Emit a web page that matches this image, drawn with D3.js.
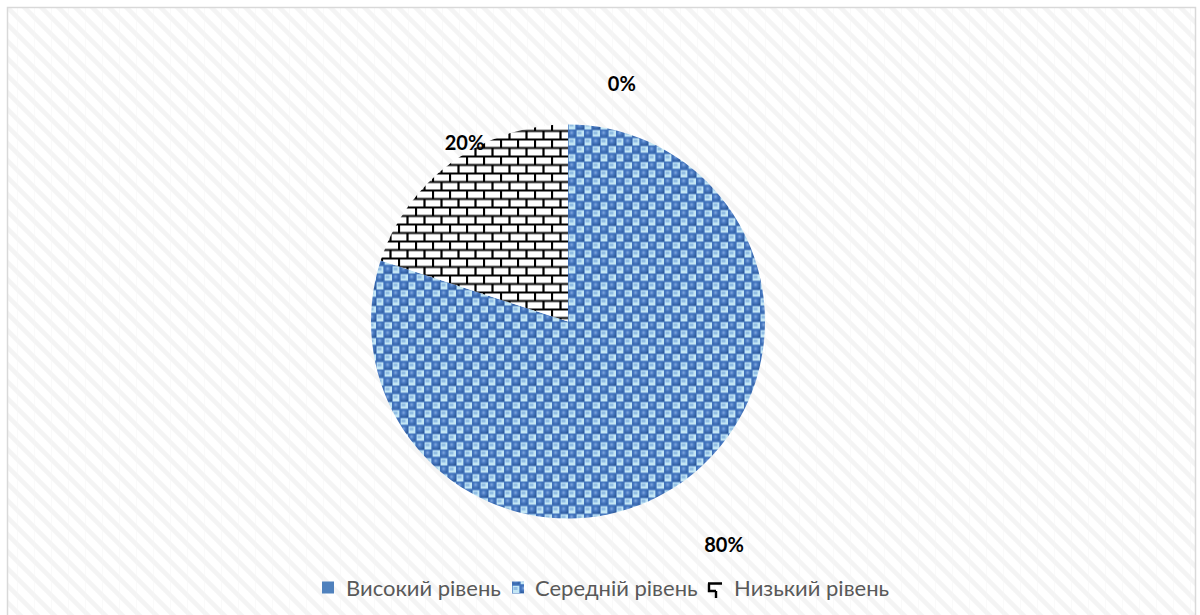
<!DOCTYPE html>
<html>
<head>
<meta charset="utf-8">
<script src="https://cdn.jsdelivr.net/npm/d3@7"></script>
<style>
  html, body { margin: 0; padding: 0; background: #fff; }
  svg { display: block; }
</style>
</head>
<body>
<svg id="chart" width="1200" height="615"></svg>
<script>
// ---- data ----
const categories = ["Високий рівень", "Середній рівень", "Низький рівень"];
const values = [0, 80, 20];
const valueLabels = ["0%", "80%", "20%"];

// ---- layout (not data) ----
const W = 1200, H = 615;
const cx = 568, cy = 321.5, R = 197;
// label placement per slice: [radius, angle in degrees clockwise from top]
const labelPlacement = [[245, 12.7], [272, 145], [207, 330]];

const svg = d3.select("#chart");
const defs = svg.append("defs");

// background pattern (very light diagonal)
const bg = defs.append("pattern").attr("id", "bgPat").attr("patternUnits", "userSpaceOnUse")
  .attr("width", 17).attr("height", 17);
bg.append("rect").attr("width", 17).attr("height", 17).attr("fill", "#ffffff");
bg.append("path").attr("d", "M0,0 L17,17 M-8.5,8.5 L8.5,25.5 M8.5,-8.5 L25.5,8.5")
  .attr("stroke", "#f4f4f4").attr("stroke-width", 4.5);
bg.append("line").attr("x1", 0).attr("y1", 0).attr("x2", 0).attr("y2", 17)
  .attr("stroke", "#f6f6f6").attr("stroke-width", 1);

// blue sphere checker pattern
const grad = defs.append("radialGradient").attr("id", "sph").attr("cx", "45%").attr("cy", "40%").attr("r", "65%");
grad.append("stop").attr("offset", "0%").attr("stop-color", "#86acdf");
grad.append("stop").attr("offset", "40%").attr("stop-color", "#4a7bc4");
grad.append("stop").attr("offset", "100%").attr("stop-color", "#2c5898");
function makeBluePattern(id, ox, oy) {
  const bp = defs.append("pattern").attr("id", id).attr("patternUnits", "userSpaceOnUse")
    .attr("width", 16).attr("height", 16).attr("x", ox).attr("y", oy);
  bp.append("rect").attr("width", 16).attr("height", 16).attr("fill", "#c3e6f5");
  bp.append("rect").attr("x", 0).attr("y", 0).attr("width", 8).attr("height", 8).attr("fill", "url(#sph)");
  bp.append("rect").attr("x", 8).attr("y", 8).attr("width", 8).attr("height", 8).attr("fill", "url(#sph)");
  bp.append("path").attr("d", "M8,0 v16 M0,8 h16 M0,0 h16 M0,0 v16").attr("stroke", "#4173bd").attr("stroke-width", 1.3);
  bp.append("rect").attr("x", 9.5).attr("y", 2).attr("width", 4).attr("height", 3).attr("fill", "#6fa2d8").attr("opacity", 0.6);
  bp.append("rect").attr("x", 1.5).attr("y", 10).attr("width", 4).attr("height", 3).attr("fill", "#6fa2d8").attr("opacity", 0.6);
}
makeBluePattern("bluePat", 0, 0);
makeBluePattern("bluePatLeg", 512, 582);

// brick pattern
const brW = 17, brH = 8.5;
const br = defs.append("pattern").attr("id", "brickPat").attr("patternUnits", "userSpaceOnUse")
  .attr("width", brW).attr("height", brH * 2).attr("x", 0).attr("y", 125);
br.append("rect").attr("width", brW).attr("height", brH * 2).attr("fill", "#ffffff");
br.append("path")
  .attr("d", `M0,${brH - 1} H${brW} M0,${2 * brH - 1} H${brW} M1,0 V${brH} M${brW / 2 + 1},${brH} V${2 * brH}`)
  .attr("stroke", "#000").attr("stroke-width", 2.2).attr("fill", "none");

const fills = ["#4f81bd", "url(#bluePat)", "url(#brickPat)"];
const legFills = ["#4f81bd", "url(#bluePatLeg)", null];

// background + border
svg.append("rect").attr("x", 7.5).attr("y", 7.5).attr("width", 1188).attr("height", 620)
  .attr("fill", "url(#bgPat)").attr("stroke", "#d9d9d9").attr("stroke-width", 1.5);

// pie
const pie = d3.pie().sort(null).value(d => d).startAngle(0).endAngle(2 * Math.PI);
const arcs = pie(values);
const arc = d3.arc().innerRadius(0).outerRadius(R);
const g = svg.append("g").attr("transform", `translate(${cx},${cy})`);
g.selectAll("path.slice").data(arcs).enter().append("path")
  .attr("class", "slice")
  .attr("d", arc)
  .attr("fill", (d, i) => fills[i])
  .attr("stroke", "none");

// labels
g.selectAll("text.lbl").data(arcs).enter().append("text")
  .attr("class", "lbl")
  .attr("x", (d, i) => labelPlacement[i][0] * Math.sin(labelPlacement[i][1] * Math.PI / 180))
  .attr("y", (d, i) => -labelPlacement[i][0] * Math.cos(labelPlacement[i][1] * Math.PI / 180))
  .attr("text-anchor", "middle").attr("dominant-baseline", "central")
  .attr("font-family", "Lato, 'Open Sans', sans-serif").attr("font-weight", "bold")
  .attr("font-size", 20).attr("fill", "#000")
  .text((d, i) => valueLabels[i]);

// legend
const legend = svg.append("g").attr("transform", "translate(0,587)");
const legX = [322, 512, 708];
const legTextX = [346, 535, 734];
categories.forEach((c, i) => {
  if (i === 2) {
    const x0 = legX[i];
    legend.append("path")
      .attr("d", `M${x0},-3.5 H${x0 + 14} M${x0 + 1},-3.5 V4 H${x0 + 8} M${x0 + 8},4 V11`)
      .attr("stroke", "#000").attr("stroke-width", 2.4).attr("fill", "none");
  } else {
    legend.append("rect").attr("x", legX[i]).attr("y", -5.5).attr("width", 12).attr("height", 12)
      .attr("fill", legFills[i]);
  }
  legend.append("text").attr("x", legTextX[i]).attr("y", 0).attr("dominant-baseline", "central")
    .attr("font-family", "Lato, 'Open Sans', sans-serif").attr("font-size", 22)
    .attr("fill", "#595959").text(c);
});
</script>
</body>
</html>
